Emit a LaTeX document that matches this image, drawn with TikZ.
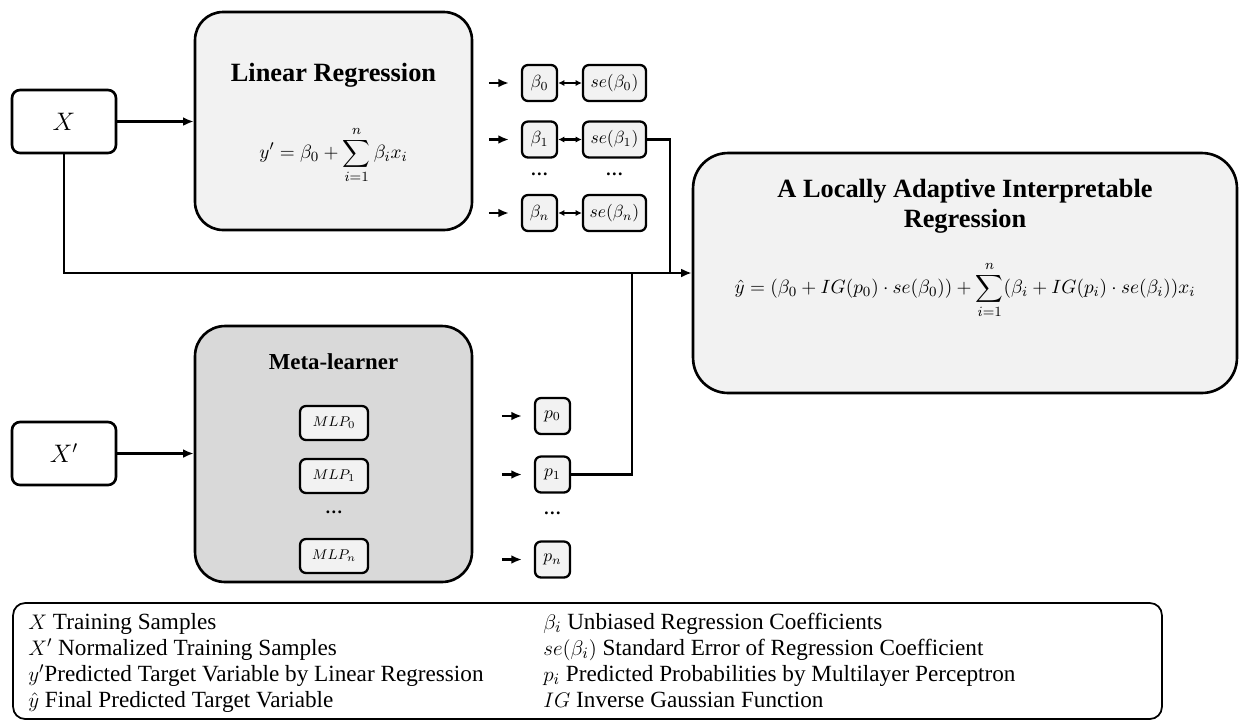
\documentclass[tikz,border=0pt]{standalone}
\usepackage{amsmath}
\usepackage{fontspec}
\setmainfont{Liberation Serif}
\usetikzlibrary{arrows.meta}
\usetikzlibrary{calc}

\definecolor{boxgray}{HTML}{F2F2F2}
\definecolor{metagray}{HTML}{D9D9D9}

\begin{document}
\begin{tikzpicture}[x=0.02cm, y=-0.02cm,
    every node/.style={inner sep=0pt},
    inbox/.style={draw, line width=1.5pt, rounded corners=0.16cm, fill=white, minimum width=2.08cm, minimum height=1.26cm, font=\fontsize{14}{16}\selectfont},
    bigbox/.style={draw, line width=1.5pt, fill=boxgray},
    coef/.style={draw, line width=1.3pt, rounded corners=0.12cm, fill=boxgray, minimum height=0.72cm, font=\fontsize{10}{12}\selectfont},
    mlp/.style={draw, line width=1.3pt, rounded corners=0.12cm, fill=boxgray, minimum width=1.36cm, minimum height=0.68cm, font=\fontsize{8.5}{10}\selectfont},
    link/.style={line width=1.5pt},
    arr/.style={link, -{Latex[length=6pt,width=5pt]}},
    dbl/.style={line width=1.2pt, {Latex[length=3.5pt,width=3.5pt]}-{Latex[length=3.5pt,width=3.5pt]}},
    title/.style={font=\fontsize{15}{17}\selectfont\bfseries, align=center},
    legtext/.style={anchor=base west, font=\fontsize{13.2}{15}\selectfont},
  ]
  \useasboundingbox (0,0) rectangle (1239,721);

  % inputs
  \node[inbox] (x) at (64,121.5) {$X$};
  \node[inbox] (xn) at (64,453.5) {$X'$};

  % linear regression
  \node[bigbox, rounded corners=0.56cm, minimum width=5.54cm, minimum height=4.36cm] (lin) at (333.5,121) {};
  \node[title] (lintitle) at (333.5,75) {Linear Regression};
  \node[font=\fontsize{11}{13}\selectfont] (linform) at (333.5,155) {$\displaystyle y' = \beta_0 + \sum_{i=1}^{n} \beta_i x_i$};

  % meta-learner
  \node[bigbox, fill=metagray, rounded corners=0.6cm, minimum width=5.54cm, minimum height=5.12cm] (meta) at (333.5,454) {};
  \node[title, font=\fontsize{13}{15}\selectfont\bfseries] (metatitle) at (333.5,362) {Meta-learner};
  \node[mlp] (m0) at (334,423) {$MLP_0$};
  \node[mlp] (m1) at (334,476) {$MLP_1$};
  \node[font=\fontsize{10}{12}\selectfont] (mdots) at (334,512) {\textbf{\dots}};
  \node[mlp] (mn) at (334,556) {$MLP_n$};

  % coefficients
  \node[coef, minimum width=0.7cm] (b0) at (539.5,83) {$\beta_0$};
  \node[coef, minimum width=1.26cm] (s0) at (614.5,83) {$se(\beta_0)$};
  \node[coef, minimum width=0.7cm] (b1) at (539.5,139.5) {$\beta_1$};
  \node[coef, minimum width=1.26cm] (s1) at (614.5,139.5) {$se(\beta_1)$};
  \node[font=\fontsize{10}{12}\selectfont] (bdots) at (539.5,174) {\textbf{\dots}};
  \node[font=\fontsize{10}{12}\selectfont] (sdots) at (614.5,174) {\textbf{\dots}};
  \node[coef, minimum width=0.7cm] (bn) at (539.5,213) {$\beta_n$};
  \node[coef, minimum width=1.26cm] (sn) at (614.5,213) {$se(\beta_n)$};

  % probabilities
  \node[coef, minimum width=0.7cm] (p0) at (552.5,416) {$p_0$};
  \node[coef, minimum width=0.7cm] (p1) at (552.5,474.5) {$p_1$};
  \node[font=\fontsize{10}{12}\selectfont] (pdots) at (552.5,513) {\textbf{\dots}};
  \node[coef, minimum width=0.7cm] (pn) at (552.5,559.5) {$p_n$};

  % locally adaptive interpretable regression
  \node[bigbox, rounded corners=0.7cm, minimum width=10.88cm, minimum height=4.8cm] (lair) at (965,273) {};
  \node[title, font=\fontsize{15}{17}\selectfont\bfseries] (lairtitle) at (965,206) {A Locally Adaptive Interpretable\\Regression};
  \node[font=\fontsize{11}{13}\selectfont] (lairform) at (965,290) {$\displaystyle \hat{y} = (\beta_0 + IG(p_0)\cdot se(\beta_0)) + \sum_{i=1}^{n} (\beta_i + IG(p_i)\cdot se(\beta_i))x_i$};

  \coordinate (sjoin) at (670,273);
  \coordinate (pjoin) at (632,273);

  % connectors
  \draw[arr] (x.east) -- (x.east -| lin.west);
  \draw[arr] (xn.east) -- (xn.east -| meta.west);
  \draw[arr] (x.south) |- (lair.west);
  \draw[link] (s1.east) -| (sjoin);
  \draw[link] (p1.east) -| (pjoin);
  \foreach \n in {b0,b1,bn,p0,p1,pn}
    \draw[arr] ([xshift=-0.64cm]\n.west) -- ([xshift=-0.24cm]\n.west);
  \foreach \n in {0,1,n}
    \draw[dbl] (b\n) -- (s\n);

  % legend
  \node[draw, line width=1pt, rounded corners=0.24cm, minimum width=22.98cm, minimum height=2.32cm] (legend) at (587.5,661) {};
  \node[legtext] (lx) at (28,629) {$X$ Training Samples};
  \node[legtext] (lxn) at (28,655) {$X'$ Normalized Training Samples};
  \node[legtext] (ly) at (28,681) {$y'$Predicted Target Variable by Linear Regression};
  \node[legtext] (lyh) at (28,707) {$\hat{y}$ Final Predicted Target Variable};
  \node[legtext] (lb) at (543,629) {$\beta_i$ Unbiased Regression Coefficients};
  \node[legtext] (lse) at (543,655) {$se(\beta_i)$ Standard Error of Regression Coefficient};
  \node[legtext] (lp) at (543,681) {$p_i$ Predicted Probabilities by Multilayer Perceptron};
  \node[legtext] (lig) at (543,707) {$IG$ Inverse Gaussian Function};
\end{tikzpicture}
\end{document}
